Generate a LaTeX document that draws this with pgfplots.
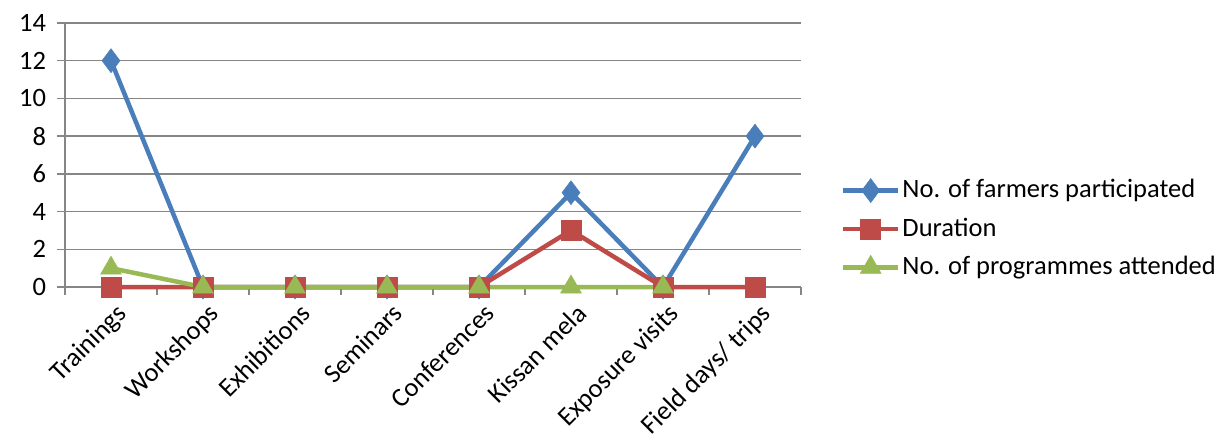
\documentclass[border=0pt]{standalone}
\usepackage{pgfplots}
\pgfplotsset{compat=1.18}
\usepackage{fontspec}
\setmainfont{Carlito}
\definecolor{cblue}{HTML}{4A7EBB}
\definecolor{cred}{HTML}{BE4B48}
\definecolor{cgreen}{HTML}{98B954}
\definecolor{cgrid}{HTML}{868686}
\begin{document}
\fontsize{26.5}{30}\selectfont
\begin{tikzpicture}
\begin{axis}[
  name=ax,
  scale only axis,
  width=736pt, height=264pt,
  xmin=-0.5, xmax=7.5,
  ymin=0, ymax=14,
  ytick={0,2,...,14},
  xtick={0,...,7},
  xticklabels={Trainings,Workshops,Exhibitions,Seminars,Conferences,Kissan mela,Exposure visits,Field days/ trips},
  minor xtick={-0.5,0.5,...,7.5},
  xticklabel style={rotate=45, anchor=north east, inner sep=2pt, yshift=-6pt},
  major x tick style={draw=none},
  minor x tick style={draw=cgrid, line width=1.5pt},
  xtick align=outside,
  ytick align=outside,
  y tick style={draw=cgrid, line width=1.5pt},
  major tick length=8pt, minor tick length=8pt,
  axis x line*=bottom, axis y line*=left,
  axis line style={draw=cgrid, line width=1.5pt, -},
  ymajorgrids,
  grid style={draw=cgrid, line width=1.5pt},
  tick label style={font=\fontsize{26.5}{30}\selectfont},
  /pgf/number format/assume math mode=true,
  yticklabel style={xshift=-2pt},
  clip=false,
  legend style={at={(1.054,0.22)}, anchor=west, draw=none, fill=none,
    font=\fontsize{26.5}{30}\selectfont, row sep=12pt, inner sep=0pt},
  legend cell align=left,
  legend image code/.code={\draw[mark repeat=2,mark phase=2] plot coordinates {(0pt,0pt) (27.5pt,0pt) (55pt,0pt)};},
]
\addplot[cblue, line width=4.5pt, mark=diamond*, mark size=12pt, mark options={solid, line width=0.5pt}]
  coordinates {(0,12) (1,0) (2,0) (3,0) (4,0) (5,5) (6,0) (7,8)};
\addlegendentry{No. of farmers participated}
\addplot[cred, line width=4.5pt, mark=square*, mark size=10pt, mark options={solid, line width=0.5pt}]
  coordinates {(0,0) (1,0) (2,0) (3,0) (4,0) (5,3) (6,0) (7,0)};
\addlegendentry{Duration}
\addplot[cgreen, line width=4.5pt, mark=triangle*, mark size=12pt, mark options={solid, line width=0.5pt}]
  coordinates {(0,1) (1,0) (2,0) (3,0) (4,0) (5,0) (6,0)};
\addlegendentry{No. of programmes attended}
\end{axis}
\pgfresetboundingbox
\path (ax.south west) ++(-65pt,-153pt) rectangle ++(1217pt,440pt);
\end{tikzpicture}
\end{document}
